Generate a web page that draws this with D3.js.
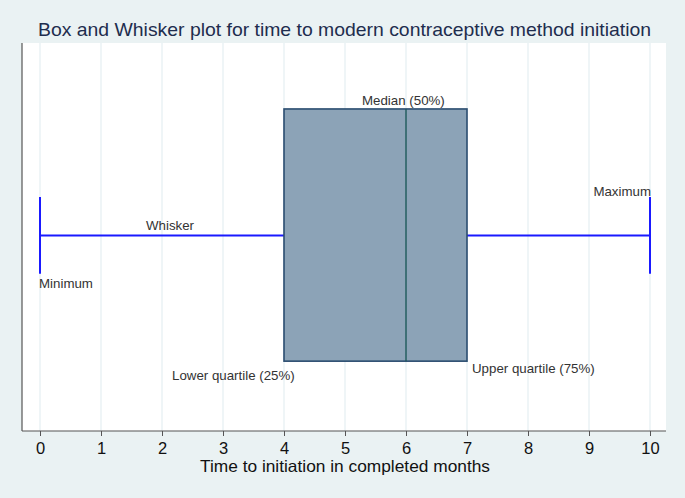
<!DOCTYPE html>
<html><head><meta charset="utf-8">
<script src="https://cdn.jsdelivr.net/npm/d3@7"></script>
<style>body{margin:0;background:#eaf2f3;} svg{display:block;font-family:"Liberation Sans",Arial,sans-serif;}</style>
</head><body>
<script>
const title = "Box and Whisker plot for time to modern contraceptive method initiation";
const xLabel = "Time to initiation in completed months";
const xTicks = [0,1,2,3,4,5,6,7,8,9,10];
const stats = {min:0, q1:4, median:6, q3:7, max:10};
const annotations = ["Minimum","Lower quartile (25%)","Median (50%)","Upper quartile (75%)","Maximum","Whisker"];

const W=685,H=498;
const svg=d3.select("body").append("svg").attr("width",W).attr("height",H);
svg.append("rect").attr("width",W).attr("height",H).attr("fill","#eaf2f3");
const pl=22,pr=666,pt=43,pb=431;
svg.append("rect").attr("x",pl).attr("y",pt).attr("width",pr-pl).attr("height",pb-pt).attr("fill","#fff");
const x=d3.scaleLinear().domain([0,10]).range([40,650]);
const y=d3.scaleLinear().domain([0,1]).range([pb,pt]);

// grid
svg.append("g").selectAll("line").data(xTicks).join("line")
 .attr("x1",d=>x(d)).attr("x2",d=>x(d)).attr("y1",pt).attr("y2",pb)
 .attr("stroke","#e5eef2").attr("stroke-width",1.2);

// axes
svg.append("line").attr("x1",pl).attr("x2",pl).attr("y1",pt).attr("y2",pb).attr("stroke","#555").attr("stroke-width",1.2);
const ax=svg.append("g").attr("transform",`translate(0,${pb})`)
 .call(d3.axisBottom(x).tickValues(xTicks).tickSize(5).tickPadding(6).tickFormat(d3.format("d")));
ax.select(".domain").remove();
svg.append("line").attr("x1",pl).attr("x2",pr).attr("y1",pb).attr("y2",pb).attr("stroke","#555").attr("stroke-width",1.2);
ax.selectAll(".tick line").attr("stroke","#555");
ax.selectAll("text").attr("font-size",16.5).attr("fill","#111").attr("font-family","Liberation Sans, Arial, sans-serif");

const boxTop=y(0.83), boxBot=y(0.18), mid=y(0.504), capT=y(0.603), capB=y(0.405);
// whiskers
const wc="#1a1aff";
svg.append("line").attr("x1",x(stats.min)).attr("x2",x(stats.q1)).attr("y1",mid).attr("y2",mid).attr("stroke",wc).attr("stroke-width",2);
svg.append("line").attr("x1",x(stats.q3)).attr("x2",x(stats.max)).attr("y1",mid).attr("y2",mid).attr("stroke",wc).attr("stroke-width",2);
[stats.min,stats.max].forEach(v=>svg.append("line").attr("x1",x(v)).attr("x2",x(v)).attr("y1",capT).attr("y2",capB).attr("stroke",wc).attr("stroke-width",2));
// box
svg.append("rect").attr("x",x(stats.q1)).attr("y",boxTop).attr("width",x(stats.q3)-x(stats.q1)).attr("height",boxBot-boxTop)
 .attr("fill","#8ca3b7").attr("stroke","#2b4d70").attr("stroke-width",1.6);
svg.append("line").attr("x1",x(stats.median)).attr("x2",x(stats.median)).attr("y1",boxTop).attr("y2",boxBot).attr("stroke","#1d5a5a").attr("stroke-width",1.4);

// annotations
const ann=[
 {t:annotations[0],x:39,y:288,a:"start"},
 {t:annotations[1],x:172,y:380,a:"start"},
 {t:annotations[2],x:362,y:105,a:"start"},
 {t:annotations[3],x:472,y:373,a:"start"},
 {t:annotations[4],x:651,y:196,a:"end"},
 {t:annotations[5],x:170,y:230,a:"middle"}
];
svg.append("g").selectAll("text").data(ann).join("text")
 .attr("x",d=>d.x).attr("y",d=>d.y).attr("text-anchor",d=>d.a)
 .attr("font-size",13.3).attr("fill","#333").text(d=>d.t);

svg.append("text").attr("x",38).attr("y",36).attr("textLength",613).attr("lengthAdjust","spacingAndGlyphs")
 .attr("font-size",18.5).attr("fill","#1e2d4e").text(title);
svg.append("text").attr("x",200).attr("y",472).attr("textLength",290).attr("lengthAdjust","spacingAndGlyphs")
 .attr("font-size",16.5).attr("fill","#111").text(xLabel);
</script>
</body></html>
